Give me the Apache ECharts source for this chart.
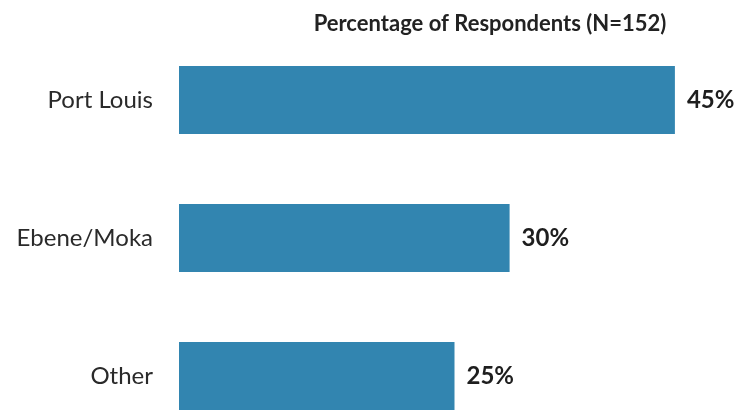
<!DOCTYPE html>
<html><head><meta charset="utf-8">
<script src="https://cdn.jsdelivr.net/npm/echarts@6/dist/echarts.min.js"></script>
<style>html,body{margin:0;padding:0;background:#fff;overflow:hidden}#c{width:742px;height:470px}</style>
</head><body><div id="c"></div>
<script>
const categories = ["Port Louis", "Ebene/Moka", "Other"];
const values = [45, 30, 25];
const titleText = "Percentage of Respondents (N=152)";

const chart = echarts.init(document.getElementById('c'), null, {renderer: 'canvas'});
chart.setOption({
  animation: false,
  backgroundColor: '#ffffff',
  title: {
    text: titleText,
    left: 485, top: 8, textAlign: 'center',
    textStyle: {fontFamily: 'Lato', fontWeight: 'bold', fontSize: 22, color: '#222'}
  },
  grid: {left: 179, top: 31, width: 551, height: 414, containLabel: false},
  xAxis: {type: 'value', min: 0, max: 50, show: false},
  yAxis: {
    type: 'category', data: categories, inverse: true,
    axisLine: {show: false}, axisTick: {show: false},
    axisLabel: {margin: 26, fontFamily: 'Lato', fontSize: 24, color: '#2a2a2a'}
  },
  series: [{
    type: 'bar', data: values, barWidth: 68,
    itemStyle: {color: '#3285b0'},
    label: {show: true, position: 'right', distance: 12, formatter: '{c}%',
      fontFamily: 'Lato', fontWeight: 'bold', fontSize: 24, color: '#1e1e1e'}
  }]
});
</script></body></html>
